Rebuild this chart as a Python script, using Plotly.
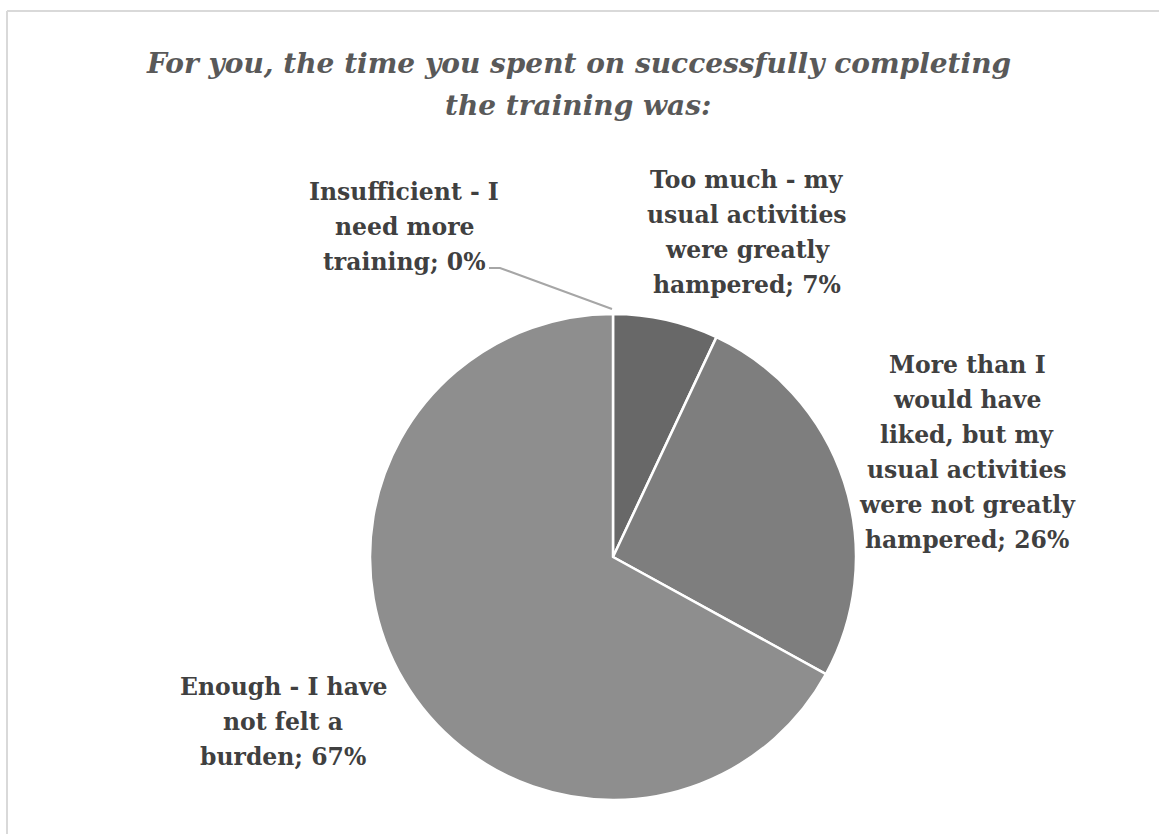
import plotly.graph_objects as go

# Survey answers and their shares (%)
categories = [
    "Insufficient - I<br>need more<br>training",
    "Too much - my<br>usual activities<br>were greatly<br>hampered",
    "More than I<br>would have<br>liked, but my<br>usual activities<br>were not greatly<br>hampered",
    "Enough - I have<br>not felt a<br>burden",
]
shares = [0, 7, 26, 67]
slice_colors = ["#a5a5a5", "#686868", "#7e7e7e", "#8e8e8e"]
title_lines = [
    "For you, the time you spent on successfully completing",
    "the training was:",
]

W, H = 1159, 834
cx, cy, r = 613, 557, 243  # pie centre and radius in pixels

fig = go.Figure()
fig.add_trace(go.Pie(
    labels=categories,
    values=shares,
    sort=False,
    direction="clockwise",
    rotation=0,
    marker=dict(colors=slice_colors, line=dict(color="white", width=2.5)),
    textinfo="none",
    hoverinfo="skip",
    showlegend=False,
    domain=dict(x=[(cx - r) / W, (cx + r) / W],
                y=[(H - cy - r) / H, (H - cy + r) / H]),
))

SERIF = "DejaVu Serif"
LINE_GAP = 35  # pixels between label lines

# Data-label placement: centre x and first-line y of each text block
label_pos = [(404, 192), (747, 180), (967, 365), (283, 687)]
label_font = dict(family=SERIF, size=23.5, color="#404040")

annotations = []
for text, val, (lx, ly) in zip(categories, shares, label_pos):
    lines = text.split("<br>")
    lines[-1] = f"{lines[-1]}; {val}%"
    for i, line in enumerate(lines):
        annotations.append(dict(
            x=lx / W, y=1 - (ly + i * LINE_GAP) / H, xref="paper", yref="paper",
            text=f"<b>{line}</b>", showarrow=False,
            xanchor="center", yanchor="middle", align="center",
            font=label_font,
        ))

title_font = dict(family=SERIF, size=28, color="#595959")
for line, ty in zip(title_lines, [64, 105]):
    annotations.append(dict(
        x=578 / W, y=1 - ty / H, xref="paper", yref="paper",
        text=f"<b><i>{line}</i></b>",
        showarrow=False, xanchor="center", yanchor="middle", align="center",
        font=title_font,
    ))

shapes = [
    # leader line for the zero-share slice
    dict(type="path", xref="paper", yref="paper",
         path=f"M {489 / W} {1 - 268 / H} L {500 / W} {1 - 268 / H} "
              f"L {612 / W} {1 - 309 / H}",
         line=dict(color="#a6a6a6", width=2)),
    # chart-area frame (left and top edges)
    dict(type="line", xref="paper", yref="paper",
         x0=7 / W, x1=7 / W, y0=0, y1=1 - 11 / H,
         line=dict(color="#d9d9d9", width=2)),
    dict(type="line", xref="paper", yref="paper",
         x0=7 / W, x1=1, y0=1 - 11 / H, y1=1 - 11 / H,
         line=dict(color="#d9d9d9", width=2)),
]

fig.update_layout(
    width=W, height=H,
    margin=dict(l=0, r=0, t=0, b=0),
    paper_bgcolor="white",
    plot_bgcolor="white",
    font=dict(family=SERIF),
    annotations=annotations,
    shapes=shapes,
)

fig.write_html("out.html")
